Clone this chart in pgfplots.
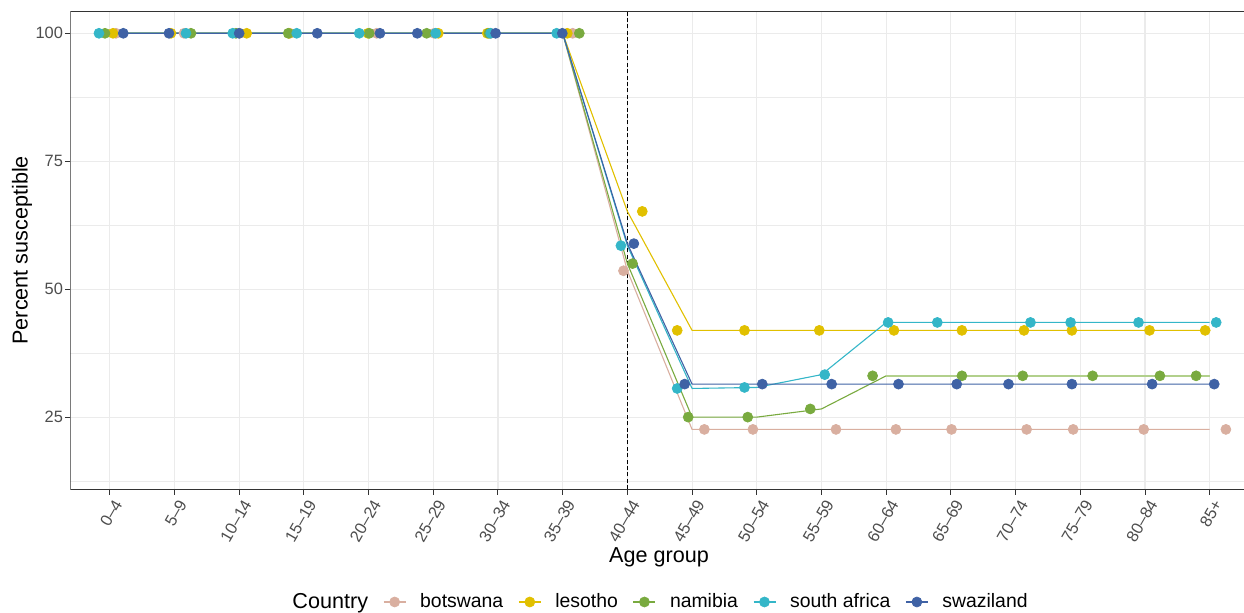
\documentclass[border=0pt]{standalone}
\usepackage{pgfplots}
\pgfplotsset{compat=1.18}
\usepackage{fontspec}
\setmainfont{Liberation Sans}
\definecolor{cbot}{RGB}{217,175,160}
\definecolor{cles}{RGB}{225,192,0}
\definecolor{cnam}{RGB}{121,170,63}
\definecolor{cnaml}{RGB}{178,208,140}
\definecolor{csa}{RGB}{52,182,200}
\definecolor{cswa}{RGB}{63,98,165}
\definecolor{gridc}{RGB}{235,235,235}
\definecolor{tickc}{RGB}{77,77,77}
\definecolor{framec}{RGB}{51,51,51}
\begin{document}
\begin{tikzpicture}
\begin{axis}[
  at={(35.15pt,61.85pt)}, anchor=south west,
  width=586.85pt, height=239pt, scale only axis,
  xmin=-0.61, xmax=17.53, ymin=10.9, ymax=104.3,
  axis line style={draw=none},
  xtick={0,...,17},
  xticklabels={0–4,5–9,10–14,15–19,20–24,25–29,30–34,35–39,40–44,45–49,50–54,55–59,60–64,65–69,70–74,75–79,80–84,85+},
  ytick={25,50,75,100},
  minor ytick={12.5,37.5,62.5,87.5},
  xtick pos=bottom, ytick pos=left,
  tick align=outside,
  major tick length=2.7pt, minor tick length=0pt,
  every tick/.style={framec, line width=0.5pt},
  grid=both,
  major grid style={gridc, line width=0.55pt},
  minor grid style={gridc, line width=0.3pt},
  /pgf/number format/assume math mode=true,
  xticklabel style={font=\fontsize{8.2}{9}\selectfont, text=tickc, xshift=1.5pt, yshift=-1.6pt, rotate=60, anchor=north east, inner sep=0pt},
  yticklabel style={font=\fontsize{8.2}{9}\selectfont, text=tickc, inner sep=0pt, xshift=-0.8pt},
  xlabel={Age group},
  ylabel={Percent susceptible},
  xlabel style={font=\fontsize{10.8}{12}\selectfont, at={(rel axis cs:0.5016,-0.1536)}, anchor=base},
  ylabel style={font=\fontsize{10.8}{12}\selectfont, at={(rel axis cs:-0.0412,0.5)}, anchor=center},
  legend columns=6,
  legend style={draw=none, fill=none, inner sep=0pt, at={(rel axis cs:0.816,-0.2358)}, anchor=east,
    font=\fontsize{9.7}{11}\selectfont,
    nodes={inner sep=0pt},
    /tikz/every odd column/.append style={column sep=7pt},
    /tikz/every even column/.append style={column sep=7.5pt}},
  legend image code/.code={\draw[mark repeat=2,mark phase=2] plot coordinates {(0pt,0pt)(5.5pt,0pt)(11pt,0pt)};},
]
% legend
\addlegendimage{empty legend}
\addlegendentry{\fontsize{10.8}{12}\selectfont Country}
\addlegendimage{cbot, line width=0.55pt, mark=*, mark size=2.5pt, mark options={line width=0.35pt, draw=cbot, fill=cbot}}
\addlegendentry{botswana}
\addlegendimage{cles, line width=0.55pt, mark=*, mark size=2.5pt, mark options={line width=0.35pt, draw=cles, fill=cles}}
\addlegendentry{lesotho}
\addlegendimage{cnam, line width=0.55pt, mark=*, mark size=2.5pt, mark options={line width=0.35pt, draw=cnam, fill=cnam}}
\addlegendentry{namibia}
\addlegendimage{csa, line width=0.55pt, mark=*, mark size=2.5pt, mark options={line width=0.35pt, draw=csa, fill=csa}}
\addlegendentry{south africa}
\addlegendimage{cswa, line width=0.55pt, mark=*, mark size=2.5pt, mark options={line width=0.35pt, draw=cswa, fill=cswa}}
\addlegendentry{swaziland}
% dashed reference
\addplot[black, line width=0.5pt, dash pattern=on 2pt off 1.2pt, forget plot] coordinates {(8,10.9)(8,104.3)};
% lines
\addplot[cbot, line width=0.55pt, forget plot] coordinates {(0,100)(1,100)(2,100)(3,100)(4,100)(5,100)(6,100)(7,100)(8,53.6)(9,22.6)(10,22.6)(11,22.6)(12,22.6)(13,22.6)(14,22.6)(15,22.6)(16,22.6)(17,22.6)};
\addplot[cles, line width=0.55pt, forget plot] coordinates {(0,100)(1,100)(2,100)(3,100)(4,100)(5,100)(6,100)(7,100)(8,65.2)(9,41.95)(10,41.95)(11,41.95)(12,41.95)(13,41.95)(14,41.95)(15,41.95)(16,41.95)(17,41.95)};
\addplot[cnam, line width=0.55pt, forget plot] coordinates {(0,100)(1,100)(2,100)(3,100)(4,100)(5,100)(6,100)(7,100)(8,55.0)(9,25.0)(10,25.0)(11,26.6)(12,33.07)};
\addplot[cnaml, line width=0.9pt, forget plot] coordinates {(12,33.07)(13,33.07)(14,33.07)(15,33.07)(16,33.07)(17,33.07)};
\addplot[csa, line width=0.55pt, forget plot] coordinates {(0,100)(1,100)(2,100)(3,100)(4,100)(5,100)(6,100)(7,100)(8,58.5)(9,30.6)(10,30.8)(11,33.3)(12,43.5)(13,43.5)(14,43.5)(15,43.5)(16,43.5)(17,43.5)};
\addplot[cswa, line width=0.55pt, forget plot] coordinates {(0,100)(1,100)(2,100)(3,100)(4,100)(5,100)(6,100)(7,100)(8,58.9)(9,31.45)(10,31.45)(11,31.45)(12,31.45)(13,31.45)(14,31.45)(15,31.45)(16,31.45)(17,31.45)};
% points (jittered)
\addplot[cbot, only marks, mark=*, mark size=2.5pt, mark options={line width=0.35pt, draw=cbot, fill=cbot}, forget plot] coordinates {(0.096,100)(1.147,100)(2.01,100)(2.785,100)(4.125,100)(5.01,100)(5.89,100)(7.155,100)(7.94,53.6)(9.19,22.6)(9.94,22.6)(11.224,22.6)(12.15,22.6)(13.01,22.6)(14.17,22.6)(14.89,22.6)(15.98,22.6)(17.25,22.6)};
\addplot[cles, only marks, mark=*, mark size=2.5pt, mark options={line width=0.35pt, draw=cles, fill=cles}, forget plot] coordinates {(0.05,100)(0.946,100)(2.116,100)(2.77,100)(3.99,100)(5.077,100)(5.835,100)(7.071,100)(8.23,65.2)(8.77,41.95)(9.81,41.95)(10.966,41.95)(12.12,41.95)(13.17,41.95)(14.13,41.95)(14.87,41.95)(16.07,41.95)(16.93,41.95)};
\addplot[cnam, only marks, mark=*, mark size=2.5pt, mark options={line width=0.35pt, draw=cnam, fill=cnam}, forget plot] coordinates {(-0.074,100)(1.255,100)(1.95,100)(2.759,100)(4.011,100)(4.898,100)(5.86,100)(7.257,100)(8.08,55.0)(8.94,25.0)(9.86,25.0)(10.827,26.6)(11.79,33.07)(13.17,33.07)(14.11,33.07)(15.19,33.07)(16.23,33.07)(16.79,33.07)};
\addplot[csa, only marks, mark=*, mark size=2.5pt, mark options={line width=0.35pt, draw=csa, fill=csa}, forget plot] coordinates {(-0.167,100)(1.178,100)(1.90,100)(2.889,100)(3.856,100)(5.037,100)(5.887,100)(6.907,100)(7.90,58.5)(8.77,30.6)(9.81,30.8)(11.05,33.3)(12.03,43.5)(12.79,43.5)(14.23,43.5)(14.85,43.5)(15.90,43.5)(17.10,43.5)};
\addplot[cswa, only marks, mark=*, mark size=2.5pt, mark options={line width=0.35pt, draw=cswa, fill=cswa}, forget plot] coordinates {(0.209,100)(0.915,100)(2.00,100)(3.207,100)(4.176,100)(4.753,100)(5.964,100)(6.994,100)(8.10,58.9)(8.885,31.45)(10.085,31.45)(11.157,31.45)(12.19,31.45)(13.09,31.45)(13.89,31.45)(14.87,31.45)(16.11,31.45)(17.07,31.45)};
% panel frame (right side is cut off in the reference)
\draw[framec, line width=0.55pt] (rel axis cs:1.01,1) -- (rel axis cs:0,1) -- (rel axis cs:0,0) -- (rel axis cs:1.01,0);
\end{axis}
\pgfresetboundingbox
\useasboundingbox (0,0) rectangle (622pt,306.5pt);
\end{tikzpicture}
\end{document}
